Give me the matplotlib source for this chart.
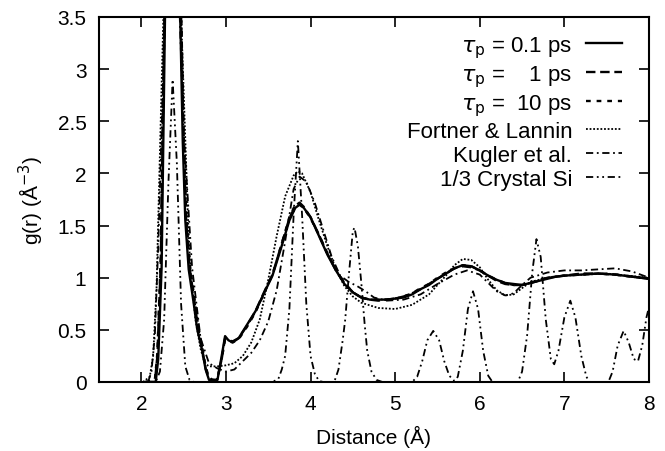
import matplotlib
matplotlib.use("Agg")
import matplotlib.pyplot as plt
import numpy as np

plt.rcParams['font.family'] = ['Liberation Sans', 'DejaVu Sans']
plt.rcParams['mathtext.fontset'] = 'dejavusans'

# tau_p = 0.1 ps (solid)
r_01 = [2.05, 2.17, 2.20, 2.24, 2.28, 2.33, 2.38, 2.46, 2.49, 2.52, 2.56, 2.62, 2.66, 2.72, 2.76,
        2.80, 2.85, 2.90, 2.95, 2.99, 3.03, 3.08, 3.15, 3.25, 3.35, 3.45, 3.55, 3.65, 3.75, 3.82,
        3.87, 3.92, 4.00, 4.10, 4.20, 4.30, 4.40, 4.50, 4.60, 4.70, 4.80, 4.90, 5.00, 5.10, 5.20,
        5.30, 5.40, 5.50, 5.60, 5.70, 5.80, 5.90, 6.00, 6.10, 6.20, 6.30, 6.40, 6.50, 6.60, 6.70,
        6.80, 6.90, 7.00, 7.20, 7.40, 7.60, 7.80, 8.00]
g_01 = [0.0, 0.0, 0.22, 1.10, 3.50, 5.50, 5.20, 3.50, 2.30, 1.55, 1.08, 0.75, 0.51, 0.30, 0.12,
        0.02, 0.0, 0.02, 0.25, 0.44, 0.40, 0.38, 0.42, 0.55, 0.68, 0.85, 1.02, 1.28, 1.55, 1.67,
        1.70, 1.67, 1.58, 1.40, 1.22, 1.07, 0.94, 0.86, 0.81, 0.79, 0.79, 0.79, 0.80, 0.81, 0.84,
        0.89, 0.93, 0.99, 1.04, 1.09, 1.12, 1.11, 1.07, 1.02, 0.98, 0.95, 0.94, 0.93, 0.95, 0.97,
        0.99, 1.01, 1.02, 1.03, 1.04, 1.03, 1.01, 0.99]

# tau_p = 1 ps (dashed)
r_1 = [2.05, 2.16, 2.19, 2.23, 2.27, 2.33, 2.39, 2.47, 2.50, 2.53, 2.57, 2.63, 2.67, 2.72, 2.76,
       2.80, 2.85, 2.90, 2.95, 2.99, 3.03, 3.08, 3.15, 3.25, 3.35, 3.45, 3.55, 3.65, 3.75, 3.82,
       3.87, 3.92, 4.00, 4.10, 4.20, 4.30, 4.40, 4.50, 4.60, 4.70, 4.80, 4.90, 5.00, 5.10, 5.20,
       5.30, 5.40, 5.50, 5.60, 5.70, 5.80, 5.90, 6.00, 6.10, 6.20, 6.30, 6.40, 6.50, 6.60, 6.70,
       6.80, 6.90, 7.00, 7.20, 7.40, 7.60, 7.80, 8.00]
g_1 = [0.0, 0.0, 0.25, 1.15, 3.40, 5.40, 5.10, 3.50, 2.30, 1.55, 1.10, 0.76, 0.52, 0.31, 0.13,
       0.03, 0.01, 0.03, 0.22, 0.42, 0.40, 0.39, 0.42, 0.54, 0.68, 0.86, 1.03, 1.30, 1.57, 1.69,
       1.72, 1.68, 1.58, 1.41, 1.23, 1.07, 0.95, 0.86, 0.81, 0.79, 0.78, 0.79, 0.80, 0.82, 0.85,
       0.89, 0.94, 0.99, 1.04, 1.09, 1.11, 1.10, 1.07, 1.02, 0.97, 0.94, 0.93, 0.93, 0.95, 0.97,
       1.00, 1.01, 1.02, 1.04, 1.04, 1.03, 1.01, 0.99]

# tau_p = 10 ps (dotted)
r_10 = [2.05, 2.16, 2.19, 2.23, 2.27, 2.33, 2.39, 2.47, 2.50, 2.53, 2.57, 2.63, 2.67, 2.72, 2.76,
        2.80, 2.85, 2.90, 2.95, 2.99, 3.03, 3.08, 3.15, 3.25, 3.35, 3.45, 3.55, 3.65, 3.75, 3.82,
        3.87, 3.92, 4.00, 4.10, 4.20, 4.30, 4.40, 4.50, 4.60, 4.70, 4.80, 4.90, 5.00, 5.10, 5.20,
        5.30, 5.40, 5.50, 5.60, 5.70, 5.80, 5.90, 6.00, 6.10, 6.20, 6.30, 6.40, 6.50, 6.60, 6.70,
        6.80, 6.90, 7.00, 7.20, 7.40, 7.60, 7.80, 8.00]
g_10 = [0.0, 0.02, 0.28, 1.20, 3.30, 5.30, 5.20, 3.60, 2.40, 1.62, 1.14, 0.79, 0.55, 0.33, 0.15,
        0.04, 0.02, 0.04, 0.22, 0.41, 0.39, 0.38, 0.41, 0.53, 0.67, 0.85, 1.03, 1.30, 1.58, 1.70,
        1.71, 1.67, 1.57, 1.41, 1.23, 1.08, 0.95, 0.86, 0.81, 0.79, 0.79, 0.79, 0.80, 0.82, 0.85,
        0.90, 0.94, 1.00, 1.05, 1.09, 1.12, 1.11, 1.07, 1.02, 0.98, 0.95, 0.93, 0.93, 0.95, 0.98,
        1.00, 1.01, 1.02, 1.03, 1.04, 1.03, 1.01, 0.99]

# Fortner & Lannin
r_fl = [2.02, 2.10, 2.14, 2.18, 2.22, 2.27, 2.35, 2.45, 2.50, 2.55, 2.58, 2.64, 2.70, 2.75, 2.80,
        2.90, 3.00, 3.10, 3.20, 3.30, 3.40, 3.50, 3.60, 3.70, 3.80, 3.85, 3.90, 4.00, 4.10, 4.20,
        4.30, 4.40, 4.50, 4.60, 4.80, 5.00, 5.20, 5.40, 5.60, 5.70, 5.80, 5.90, 6.00, 6.10, 6.20,
        6.30, 6.40, 6.50, 6.60, 6.80, 7.00, 7.50, 8.00]
g_fl = [0.0, 0.05, 0.25, 0.90, 2.20, 3.80, 5.00, 4.00, 2.80, 1.60, 1.08, 0.60, 0.32, 0.18, 0.15,
        0.15, 0.16, 0.18, 0.25, 0.38, 0.60, 0.98, 1.40, 1.78, 1.98, 2.02, 2.00, 1.82, 1.55, 1.30,
        1.08, 0.92, 0.82, 0.76, 0.71, 0.70, 0.74, 0.84, 1.02, 1.12, 1.18, 1.17, 1.10, 0.98, 0.88,
        0.83, 0.84, 0.90, 0.96, 1.00, 1.02, 1.04, 1.00]

# Kugler et al.
r_ku = [2.08, 2.12, 2.16, 2.20, 2.25, 2.30, 2.36, 2.45, 2.50, 2.60, 2.70, 2.80, 2.90, 3.00, 3.10,
        3.20, 3.30, 3.40, 3.50, 3.60, 3.70, 3.80, 3.87, 3.95, 4.05, 4.15, 4.25, 4.35, 4.45, 4.55,
        4.65, 4.75, 4.90, 5.10, 5.30, 5.50, 5.70, 5.85, 6.00, 6.10, 6.20, 6.30, 6.40, 6.50, 6.60,
        6.80, 7.00, 7.20, 7.40, 7.60, 7.80, 8.00]
g_ku = [0.0, 0.10, 0.45, 1.30, 2.70, 4.20, 5.00, 3.60, 2.40, 1.10, 0.42, 0.18, 0.13, 0.10, 0.12,
        0.20, 0.28, 0.40, 0.58, 0.88, 1.35, 1.85, 1.97, 1.92, 1.72, 1.46, 1.20, 1.02, 0.96, 0.92,
        0.87, 0.81, 0.78, 0.79, 0.84, 0.94, 1.03, 1.07, 1.03, 0.95, 0.87, 0.83, 0.85, 0.93, 1.00,
        1.05, 1.07, 1.07, 1.08, 1.09, 1.06, 1.00]

# 1/3 crystal Si
r_cs = [2.00, 2.17, 2.22, 2.27, 2.32, 2.37, 2.42, 2.47, 2.52, 2.57, 2.62, 3.55, 3.62, 3.66, 3.70,
        3.75, 3.80, 3.85, 3.90, 3.95, 4.00, 4.05, 4.10, 4.15, 4.28, 4.33, 4.38, 4.41, 4.45, 4.50,
        4.52, 4.56, 4.60, 4.64, 4.67, 4.72, 4.78, 4.85, 5.20, 5.26, 5.32, 5.38, 5.45, 5.52, 5.58,
        5.64, 5.70, 5.74, 5.80, 5.86, 5.92, 5.98, 6.04, 6.10, 6.15, 6.45, 6.50, 6.56, 6.62, 6.67,
        6.72, 6.78, 6.84, 6.88, 6.93, 7.00, 7.07, 7.13, 7.20, 7.26, 7.30, 7.52, 7.57, 7.63, 7.70,
        7.76, 7.82, 7.87, 7.92, 7.97, 8.00]
g_cs = [0.0, 0.0, 0.10, 0.60, 1.90, 2.90, 2.10, 0.75, 0.15, 0.02, 0.0, 0.0, 0.03, 0.12, 0.25,
        0.70, 1.60, 2.31, 1.60, 0.75, 0.25, 0.08, 0.01, 0.0, 0.0, 0.12, 0.40, 0.60, 1.00, 1.45,
        1.48, 1.30, 0.95, 0.55, 0.30, 0.10, 0.02, 0.0, 0.0, 0.05, 0.20, 0.40, 0.49, 0.40, 0.20,
        0.06, 0.01, 0.05, 0.30, 0.70, 0.87, 0.70, 0.30, 0.06, 0.0, 0.0, 0.10, 0.45, 1.05, 1.37,
        1.20, 0.60, 0.22, 0.17, 0.30, 0.62, 0.78, 0.62, 0.25, 0.05, 0.0, 0.0, 0.10, 0.35, 0.49,
        0.38, 0.22, 0.20, 0.35, 0.62, 0.72]

x_ticks = [2, 3, 4, 5, 6, 7, 8]
y_ticks = [0, 0.5, 1, 1.5, 2, 2.5, 3, 3.5]
y_tick_labels = ['0', '0.5', '1', '1.5', '2', '2.5', '3', '3.5']

fig = plt.figure(figsize=(6.65, 4.52), dpi=100)
ax = fig.add_axes([99/665, 1 - 383/452, 550/665, 365/452])

lw = 1.3
tau = r'$\tau_{\rm p}$'
ax.plot(r_01, g_01, color='k', lw=1.7, ls='-', label=tau + ' = 0.1 ps')
ax.plot(r_1, g_1, color='k', lw=1.7, ls=(0, (4, 2)), label=tau + ' =    1 ps')
ax.plot(r_10, g_10, color='k', lw=1.7, ls=(0, (2, 2.5)), label=tau + ' =  10 ps')
ax.plot(r_fl, g_fl, color='k', lw=lw, ls=(0, (1, 1)), label='Fortner & Lannin')
ax.plot(r_ku, g_ku, color='k', lw=lw, ls=(0, (4, 2, 1, 2)), label='Kugler et al.')
ax.plot(r_cs, g_cs, color='k', lw=lw, ls=(0, (4, 2, 1, 2, 1, 2)), label='1/3 Crystal Si')

ax.set_xlim(1.5, 8)
ax.set_ylim(0, 3.5)
ax.set_xticks(x_ticks)
ax.set_yticks(y_ticks)
ax.set_yticklabels(y_tick_labels)
ax.tick_params(direction='in', length=7, width=1.2, top=True, right=True,
               labelsize=15, pad=9)
for s in ax.spines.values():
    s.set_linewidth(1.5)

ax.set_xlabel('Distance (Å)', fontsize=15, labelpad=8)
ax.set_ylabel(r'g(r) (Å$^{-3}$)', fontsize=15, labelpad=8)

leg = ax.legend(loc='upper right', frameon=False, markerfirst=False, fontsize=16,
                handlelength=1.6, handletextpad=0.63, labelspacing=0.14,
                borderaxespad=0.2, bbox_to_anchor=(0.975, 0.99))
for t in leg.get_texts():
    t.set_ha('right')

fig.savefig('out.png', dpi=100)
